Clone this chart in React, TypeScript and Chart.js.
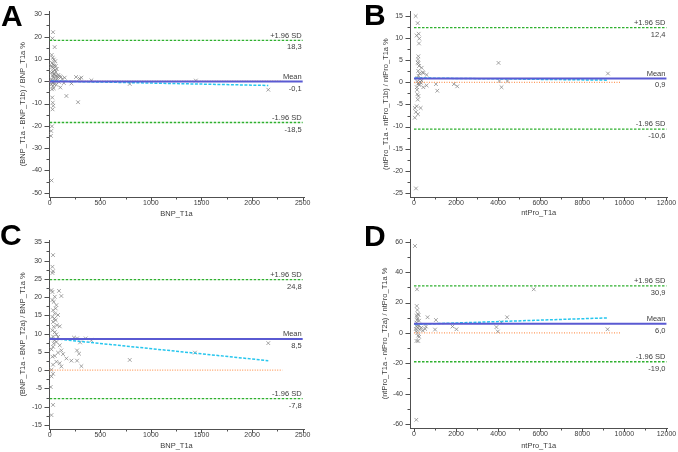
import React, { useEffect, useRef } from "react";
import { Chart, registerables } from "chart.js";

Chart.register(...registerables);

const FONT = "'Liberation Sans', Arial, sans-serif";
const INK = "#3c3c3c";
const AXIS = "#505050";
const POINT = "rgba(128,128,128,0.8)";
const MEAN_COLOR = "#5a5ad2";
const FIT_COLOR = "#26c6ee";
const SD_COLOR = "#2fb02f";
const ZERO_COLOR = "#ff9a5c";

// ---------- A: BNP, T1a vs T1b ----------
const aBnpT1a = [33, 27, 49, 20, 30, 40, 55, 22, 35, 45, 60, 25, 38, 70, 52, 30, 18, 42, 85, 62, 100, 110, 35, 48, 75, 125, 148, 20, 260, 295, 313, 412, 58, 90, 28, 140, 215, 45, 65, 30, 105, 40, 22, 165, 280, 25, 30, 35, 28, 22, 15, 12, 18, 791, 1444, 2160, 15, 50, 80, 25, 60, 42, 30, 18];
const aDiffPct = [22.0, 19.2, 15.3, 11.8, 10.5, 9.7, 9.0, 8.2, 7.6, 7.0, 6.8, 6.3, 5.8, 5.5, 5.0, 4.4, 3.8, 3.3, 2.8, 2.5, 2.2, 1.8, 1.9, 1.4, 1.2, 1.0, 1.6, 0.8, 1.9, 1.2, 1.6, 0.4, 0.2, -0.3, -0.6, -0.8, -1.0, -1.3, -1.6, -2.2, -2.8, -3.2, -3.6, -6.6, -9.4, -7.3, -9.6, -11.0, -12.6, -20.2, -22.3, -24.5, -44.5, -1.2, 0.3, -3.8, 6.8, 3.0, 2.0, 0.0, 4.2, -0.2, 2.6, -1.4];
const aFitX = [12, 2160];
const aFitY = [0.1, -1.9];
const aLimits = [18.3, -0.1, -18.5]; // +1.96 SD, mean, -1.96 SD
const aZeroEnd = 2300;

// ---------- B: NT-proBNP, T1a vs T1b ----------
const bNtProT1a = [80, 175, 127, 222, 253, 237, 206, 190, 175, 210, 240, 364, 200, 411, 442, 600, 215, 160, 285, 330, 360, 190, 150, 1043, 250, 600, 442, 130, 1107, 1897, 2056, 158, 210, 180, 127, 317, 40, 90, 190, 40, 95, 4018, 4060, 4160, 4440, 9220, 260, 300, 145, 230];
const bDiffPct = [15.0, 13.4, 10.6, 11.0, 9.9, 8.8, 5.9, 5.2, 4.5, 4.3, 3.7, 3.3, 2.6, 2.3, 2.1, 1.7, 1.5, 1.0, 0.1, -0.1, 0.4, -0.3, 0.2, -0.4, -0.6, -0.7, -1.1, -1.1, -1.9, -0.4, -0.9, -2.7, -3.1, -3.9, -5.4, -5.8, -5.8, -6.7, -7.2, -8.0, -24.0, 4.4, 0.3, -1.1, 0.3, 2.0, 2.0, 0.8, -1.7, -0.2];
const bFitX = [40, 9220];
const bFitY = [1.0, 0.5];
const bLimits = [12.4, 0.9, -10.6];
const bZeroEnd = 9800;

// ---------- C: BNP, T1a vs T2a ----------
const cBnpT1a = [33, 27, 33, 27, 17, 27, 50, 92, 115, 27, 40, 66, 59, 33, 50, 82, 27, 46, 59, 33, 72, 40, 99, 27, 50, 66, 33, 82, 17, 50, 66, 40, 99, 115, 33, 17, 82, 50, 27, 132, 165, 214, 270, 290, 270, 313, 99, 115, 66, 33, 17, 33, 17, 10, 33, 17, 791, 1435, 2160, 270, 356, 412, 240, 300];
const cDiffPct = [31.5, 28.3, 27.1, 26.6, 21.9, 21.4, 20.1, 21.7, 20.3, 19.2, 18.7, 17.8, 16.9, 16.4, 15.5, 15.1, 14.6, 14.1, 13.7, 13.2, 12.3, 11.9, 12.0, 10.9, 10.4, 9.8, 9.2, 9.1, 8.6, 8.2, 7.7, 7.3, 6.8, 5.4, 6.4, 5.7, 4.8, 3.9, 3.7, 4.4, 3.2, 2.6, 5.4, 4.5, 2.6, 1.1, 1.9, 1.0, 2.3, 1.5, 0.1, -1.0, -1.7, -4.6, -9.5, -12.3, 2.8, 4.8, 7.4, 8.7, 8.7, 8.2, 8.9, 7.6];
const cFitX = [10, 2160];
const cFitY = [8.7, 2.6];
const cLimits = [24.8, 8.5, -7.8];
const cZeroEnd = 2300;

// ---------- D: NT-proBNP, T1a vs T2a ----------
const dNtProT1a = [47, 142, 130, 160, 218, 120, 165, 150, 240, 110, 165, 130, 238, 200, 90, 280, 110, 165, 200, 240, 120, 200, 110, 645, 569, 530, 1043, 1000, 1831, 2020, 3918, 3985, 4150, 4426, 5692, 9203, 350, 420, 180];
const dDiffPct = [57.2, 28.7, 17.7, 15.1, 11.8, 11.2, 9.6, 8.5, 8.0, 6.8, 5.3, 4.2, 4.6, 3.1, 2.6, 2.2, 1.1, 0.0, -1.8, -2.6, -5.3, -5.3, -57.2, 10.3, 4.2, 2.6, 8.5, 2.2, 4.2, 2.4, 3.8, 0.9, 7.0, 10.3, 28.7, 2.4, 3.5, 1.5, 12.5];
const dFitX = [47, 9203];
const dFitY = [5.6, 9.9];
const dLimits = [30.9, 6.0, -19.0];
const dZeroEnd = 9800;

// ---------- tick labels ----------
const bnpXTicks = [0, 500, 1000, 1500, 2000, 2500];
const ntProXTicks = [0, 2000, 4000, 6000, 8000, 10000, 12000];
const aYTicks = [-50, -40, -30, -20, -10, 0, 10, 20, 30];
const bYTicks = [-25, -20, -15, -10, -5, 0, 5, 10, 15];
const cYTicks = [-15, -10, -5, 0, 5, 10, 15, 20, 25, 30, 35];
const dYTicks = [-60, -40, -20, 0, 20, 40, 60];

const limitNames = ["+1.96 SD", "Mean", "-1.96 SD"];

type Spec = {
  letter: string;
  box: { left: number; top: number; width: number; height: number };
  letterPos: { left: number; top: number };
  xs: number[];
  ys: number[];
  fitX: number[];
  fitY: number[];
  limits: number[];
  zeroEnd: number;
  xTicks: number[];
  yTicks: number[];
  xRange: [number, number];
  yRange: [number, number];
  xTitle: string;
  yTitle: string;
  yAxisW: number;
  xAxisH: number;
  pad: { left: number; top: number; right: number; bottom: number };
  yTitlePad: number;
  xTitlePad: number;
};

const panels: Spec[] = [
  {
    letter: "A",
    box: { left: 0, top: 0, width: 339, height: 226 },
    letterPos: { left: 1, top: 0.6 },
    xs: aBnpT1a, ys: aDiffPct, fitX: aFitX, fitY: aFitY, limits: aLimits, zeroEnd: aZeroEnd,
    xTicks: bnpXTicks, yTicks: aYTicks,
    xRange: [-7, 2513], yRange: [-51.9, 31.4],
    xTitle: "BNP_T1a", yTitle: "(BNP_T1a - BNP_T1b) / BNP_T1a %",
    yAxisW: 49, xAxisH: 29,
    pad: { left: 0, top: 6, right: 35, bottom: 0 },
    yTitlePad: 18.5, xTitlePad: 7.5,
  },
  {
    letter: "B",
    box: { left: 339, top: 0, width: 339, height: 226 },
    letterPos: { left: 364, top: -0.4 },
    xs: bNtProT1a, ys: bDiffPct, fitX: bFitX, fitY: bFitY, limits: bLimits, zeroEnd: bZeroEnd,
    xTicks: ntProXTicks, yTicks: bYTicks,
    xRange: [-190, 12047], yRange: [-25.94, 16.1],
    xTitle: "ntPro_T1a", yTitle: "(ntPro_T1a - ntPro_T1b) / ntPro_T1a %",
    yAxisW: 71, xAxisH: 29,
    pad: { left: 0, top: 5, right: 10, bottom: 0 },
    yTitlePad: 42.5, xTitlePad: 8.2,
  },
  {
    letter: "C",
    box: { left: 0, top: 226, width: 339, height: 226 },
    letterPos: { left: 0, top: 220 },
    xs: cBnpT1a, ys: cDiffPct, fitX: cFitX, fitY: cFitY, limits: cLimits, zeroEnd: cZeroEnd,
    xTicks: bnpXTicks, yTicks: cYTicks,
    xRange: [-7, 2513], yRange: [-16.1, 35.63],
    xTitle: "BNP_T1a", yTitle: "(BNP_T1a - BNP_T2a) / BNP_T1a %",
    yAxisW: 49, xAxisH: 23,
    pad: { left: 0, top: 14, right: 35, bottom: 0 },
    yTitlePad: 18.2, xTitlePad: 1.5,
  },
  {
    letter: "D",
    box: { left: 339, top: 226, width: 339, height: 226 },
    letterPos: { left: 364, top: 220.6 },
    xs: dNtProT1a, ys: dDiffPct, fitX: dFitX, fitY: dFitY, limits: dLimits, zeroEnd: dZeroEnd,
    xTicks: ntProXTicks, yTicks: dYTicks,
    xRange: [-190, 12047], yRange: [-62.6, 61.8],
    xTitle: "ntPro_T1a", yTitle: "(ntPro_T1a - ntPro_T2a) / ntPro_T1a %",
    yAxisW: 71, xAxisH: 24,
    pad: { left: 0, top: 13, right: 10, bottom: 0 },
    yTitlePad: 41.2, xTitlePad: 1.8,
  },
];

const fmtComma = (v: number) => v.toFixed(1).replace(".", ",");

function midpoints(t: number[]) {
  const out: number[] = [];
  for (let i = 0; i < t.length - 1; i++) out.push((t[i] + t[i + 1]) / 2);
  return out;
}

function BlandAltman({ spec }: { spec: Spec }) {
  const ref = useRef<HTMLCanvasElement | null>(null);

  useEffect(() => {
    if (!ref.current) return;
    const xFirst = spec.xTicks[0];
    const xLast = spec.xTicks[spec.xTicks.length - 1];
    const [upper, mean, lower] = spec.limits;

    const hline = (y: number, x0 = xFirst, x1 = xLast) => [
      { x: x0, y },
      { x: x1, y },
    ];

    // axis tick marks (major + minor) and the limit labels at the right end
    const decor = {
      id: "decor",
      afterDraw(chart: any) {
        const { ctx, chartArea: a } = chart;
        const xs = chart.scales.x;
        const ys = chart.scales.y;
        ctx.save();
        ctx.strokeStyle = AXIS;
        ctx.lineWidth = 1;
        ctx.beginPath();
        const yMark = (v: number, len: number) => {
          const p = Math.round(ys.getPixelForValue(v)) + 0.5;
          ctx.moveTo(a.left - len, p);
          ctx.lineTo(a.left, p);
        };
        const xMark = (v: number, len: number) => {
          const p = Math.round(xs.getPixelForValue(v)) + 0.5;
          ctx.moveTo(p, a.bottom);
          ctx.lineTo(p, a.bottom + len);
        };
        spec.yTicks.forEach((v) => yMark(v, 4.5));
        midpoints(spec.yTicks).forEach((v) => yMark(v, 2.5));
        spec.xTicks.forEach((v) => xMark(v, 4));
        midpoints(spec.xTicks).forEach((v) => xMark(v, 2.5));
        ctx.stroke();

        ctx.font = `7.5px ${FONT}`;
        ctx.fillStyle = INK;
        ctx.textAlign = "right";
        ctx.textBaseline = "middle";
        const rx = xs.getPixelForValue(xLast) - 1;
        spec.limits.forEach((v, i) => {
          const py = ys.getPixelForValue(v);
          ctx.fillText(limitNames[i], rx, py - 4.8);
          ctx.fillText(fmtComma(v), rx, py + 7);
        });
        ctx.restore();
      },
    };

    const tickFont = { family: FONT, size: 7 };
    const titleFont = { family: FONT, size: 7.5 };

    const chart = new Chart(ref.current, {
      type: "scatter",
      data: {
        datasets: [
          {
            label: "Mean",
            data: hline(mean),
            showLine: true,
            borderColor: MEAN_COLOR,
            borderWidth: 2,
            pointRadius: 0,
            order: 0,
          },
          {
            label: "Regression",
            data: spec.fitX.map((x, i) => ({ x, y: spec.fitY[i] })),
            showLine: true,
            borderColor: FIT_COLOR,
            borderWidth: 1.5,
            borderDash: [3, 1.5],
            pointRadius: 0,
            order: 1,
          },
          {
            label: "+1.96 SD",
            data: hline(upper),
            showLine: true,
            borderColor: SD_COLOR,
            borderWidth: 1.3,
            borderDash: [2.5, 1.5],
            pointRadius: 0,
            order: 2,
          },
          {
            label: "-1.96 SD",
            data: hline(lower),
            showLine: true,
            borderColor: SD_COLOR,
            borderWidth: 1.3,
            borderDash: [2.5, 1.5],
            pointRadius: 0,
            order: 2,
          },
          {
            label: "Zero",
            data: hline(0, 0, spec.zeroEnd),
            showLine: true,
            borderColor: ZERO_COLOR,
            borderWidth: 1.3,
            borderDash: [1, 1.5],
            pointRadius: 0,
            order: 3,
          },
          {
            label: "Observations",
            data: spec.xs.map((x, i) => ({ x, y: spec.ys[i] })),
            showLine: false,
            pointStyle: "crossRot",
            pointRadius: 2.6,
            borderColor: POINT,
            backgroundColor: "transparent",
            borderWidth: 0.9,
            order: 4,
          },
        ],
      },
      options: {
        animation: false,
        responsive: false,
        events: [],
        layout: { padding: spec.pad },
        plugins: { legend: { display: false }, tooltip: { enabled: false } },
        scales: {
          x: {
            type: "linear",
            position: "bottom",
            min: spec.xRange[0],
            max: spec.xRange[1],
            afterBuildTicks: (s: any) => {
              s.ticks = spec.xTicks.map((value) => ({ value }));
            },
            afterFit: (s: any) => {
              s.height = spec.xAxisH;
            },
            grid: { display: true, drawOnChartArea: false, drawTicks: false },
            border: { display: true, color: AXIS, width: 1 },
            ticks: {
              font: tickFont,
              color: INK,
              padding: 1.8,
              autoSkip: false,
              maxRotation: 0,
              callback: (v: any) => String(v),
            },
            title: {
              display: true,
              text: spec.xTitle,
              font: titleFont,
              color: INK,
              padding: { top: 0, bottom: spec.xTitlePad },
            },
          },
          y: {
            type: "linear",
            position: "left",
            min: spec.yRange[0],
            max: spec.yRange[1],
            afterBuildTicks: (s: any) => {
              s.ticks = spec.yTicks.map((value) => ({ value }));
            },
            afterFit: (s: any) => {
              s.width = spec.yAxisW;
            },
            grid: { display: true, drawOnChartArea: false, drawTicks: false },
            border: { display: true, color: AXIS, width: 1 },
            ticks: {
              font: tickFont,
              color: INK,
              padding: 7,
              autoSkip: false,
              callback: (v: any) => String(v),
            },
            title: {
              display: true,
              text: spec.yTitle,
              font: titleFont,
              color: INK,
              padding: { top: spec.yTitlePad, bottom: 0 },
            },
          },
        },
      },
      plugins: [decor],
    } as any);

    return () => chart.destroy();
  }, [spec]);

  return (
    <canvas
      ref={ref}
      width={spec.box.width}
      height={spec.box.height}
      style={{
        position: "absolute",
        left: spec.box.left,
        top: spec.box.top,
        width: spec.box.width,
        height: spec.box.height,
      }}
    />
  );
}

export default function App() {
  return (
    <div
      style={{
        position: "fixed",
        left: 0,
        top: 0,
        width: 678,
        height: 452,
        background: "#ffffff",
        overflow: "hidden",
      }}
    >
      {panels.map((p) => (
        <BlandAltman key={p.letter} spec={p} />
      ))}
      {panels.map((p) => (
        <div
          key={"L" + p.letter}
          style={{
            position: "absolute",
            left: p.letterPos.left,
            top: p.letterPos.top,
            fontFamily: FONT,
            fontWeight: 700,
            fontSize: 30,
            lineHeight: 1,
            color: "#000",
          }}
        >
          {p.letter}
        </div>
      ))}
    </div>
  );
}
